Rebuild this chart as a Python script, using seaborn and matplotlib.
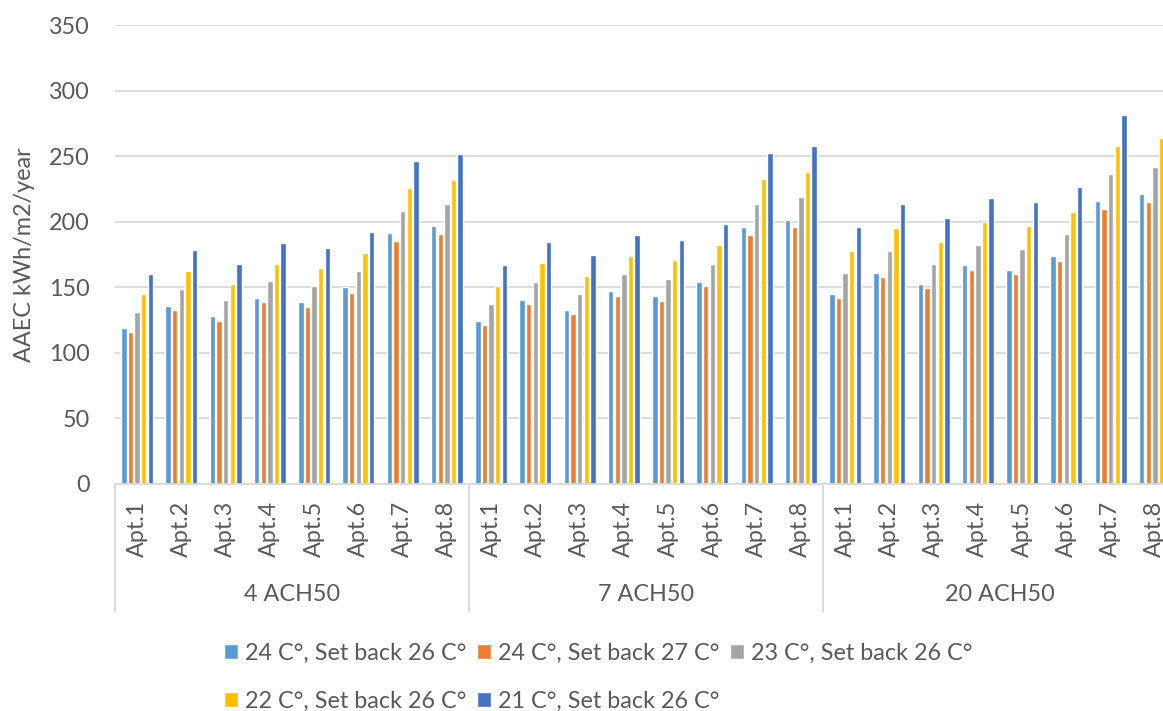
import matplotlib
matplotlib.use("Agg")
import matplotlib.pyplot as plt
import seaborn as sns
import pandas as pd
from matplotlib.patches import Patch

groups = ["4 ACH50", "7 ACH50", "20 ACH50"]
apartments = ["Apt.1", "Apt.2", "Apt.3", "Apt.4", "Apt.5", "Apt.6", "Apt.7", "Apt.8"]
series = ["24 C°, Set back 26 C°", "24 C°, Set back 27 C°", "23 C°, Set back 26 C°",
          "22 C°, Set back 26 C°", "21 C°, Set back 26 C°"]
colors = ["#5B9BD5", "#ED7D31", "#A5A5A5", "#FFC000", "#4472C4"]

# values per series: 4 ACH50 (8 apts), 7 ACH50 (8 apts), 20 ACH50 (8 apts)
s24_sb26 = [119, 136, 128, 142, 139, 150, 191.5, 196.6,
            124, 140.6, 132.4, 147, 143.6, 154.3, 196, 201,
            145, 161.2, 152.5, 166.8, 163.5, 174.1, 216.1, 221]
s24_sb27 = [116, 132.5, 124.6, 139, 135, 146, 185.6, 190.7,
            121, 137.5, 129.4, 143.6, 139.8, 150.8, 190.2, 195.6,
            141.6, 158, 149.2, 163.2, 160, 170.1, 210, 215.1]
s23_sb26 = [131.5, 148.5, 140, 154.6, 151.3, 162.5, 208, 213.6,
            137, 153.8, 145.2, 160, 156.6, 167.6, 213.6, 219,
            160.7, 177.5, 168, 182.5, 179.2, 190.5, 236.5, 241.8]
s22_sb26 = [144.7, 162.5, 152.8, 167.8, 164.5, 176, 225.8, 231.7,
            151.3, 168.6, 158.7, 173.7, 170.6, 182, 232.2, 237.8,
            177.7, 195, 184.6, 199.6, 196.6, 207.5, 258.1, 264]
s21_sb26 = [160.4, 178.8, 168, 183.8, 180.3, 192.5, 246, 251.8,
            166.8, 184.9, 174.4, 190, 186.4, 198.6, 252.3, 258.1,
            196, 213.6, 202.7, 218, 215, 226.6, 281, 287]

all_series = [s24_sb26, s24_sb27, s23_sb26, s22_sb26, s21_sb26]
cats = [g + "|" + a for g in groups for a in apartments]
rows = []
for name, vals in zip(series, all_series):
    for c, v in zip(cats, vals):
        rows.append({"cat": c, "series": name, "value": v})
df = pd.DataFrame(rows)

sns.set_style("white")
plt.rcParams["font.family"] = ["Lato", "DejaVu Sans"]
txt = "#595959"
grid = "#D9D9D9"
fs = 16.8

fig = plt.figure(figsize=(11.63, 7.11), dpi=100)
ax = fig.add_axes([115 / 1163, 227 / 711, 1062 / 1163, 459 / 711])

sns.barplot(data=df, x="cat", y="value", hue="series", order=cats, hue_order=series,
            palette=colors, width=0.75, gap=0.2, saturation=1, errorbar=None,
            legend=False, ax=ax)

ax.set_xlim(-0.5, 23.5)
ax.set_ylim(0, 350)
ax.set_yticks(range(0, 351, 50))
ax.set_xticks(range(len(cats)))
ax.set_xticklabels(apartments * 3, rotation=90)
ax.set_xlabel("")
ax.set_ylabel("")
ax.tick_params(length=0, labelsize=fs, labelcolor=txt)
ax.tick_params(axis="y", pad=18)
ax.tick_params(axis="x", pad=12)
ax.yaxis.grid(True, color=grid, lw=1.3)
ax.set_axisbelow(True)
for side in ["left", "right", "top"]:
    ax.spines[side].set_visible(False)
ax.spines["bottom"].set_color(grid)
ax.spines["bottom"].set_linewidth(1.3)

# group separators and group labels
tr = ax.get_xaxis_transform()
for xv in [-0.5, 7.5, 15.5, 23.5]:
    ax.plot([xv, xv], [0, -0.279], transform=tr, color=grid, lw=1.3, clip_on=False)
for i, g in enumerate(groups):
    ax.text(3.5 + 8 * i, -0.24, g, transform=tr, ha="center", va="center",
            fontsize=fs, color=txt)

fig.text(25 / 1163, 1 - 255 / 711, "AAEC kWh/m2/year", rotation=90,
         ha="center", va="center", fontsize=fs, color=txt)

order = [0, 3, 1, 4, 2]
handles = [Patch(facecolor=colors[i]) for i in order]
labels = [series[i] for i in order]
fig.legend(handles=handles, labels=labels, ncol=3, loc="upper left",
           bbox_to_anchor=(224 / 1163, 1 - 643 / 711), frameon=False, fontsize=fs,
           handlelength=0.6, handleheight=0.6, handletextpad=0.3,
           columnspacing=0.45, labelcolor=txt, labelspacing=1.15,
           borderaxespad=0, borderpad=0)

fig.savefig("out.png", dpi=100)
plt.close(fig)
